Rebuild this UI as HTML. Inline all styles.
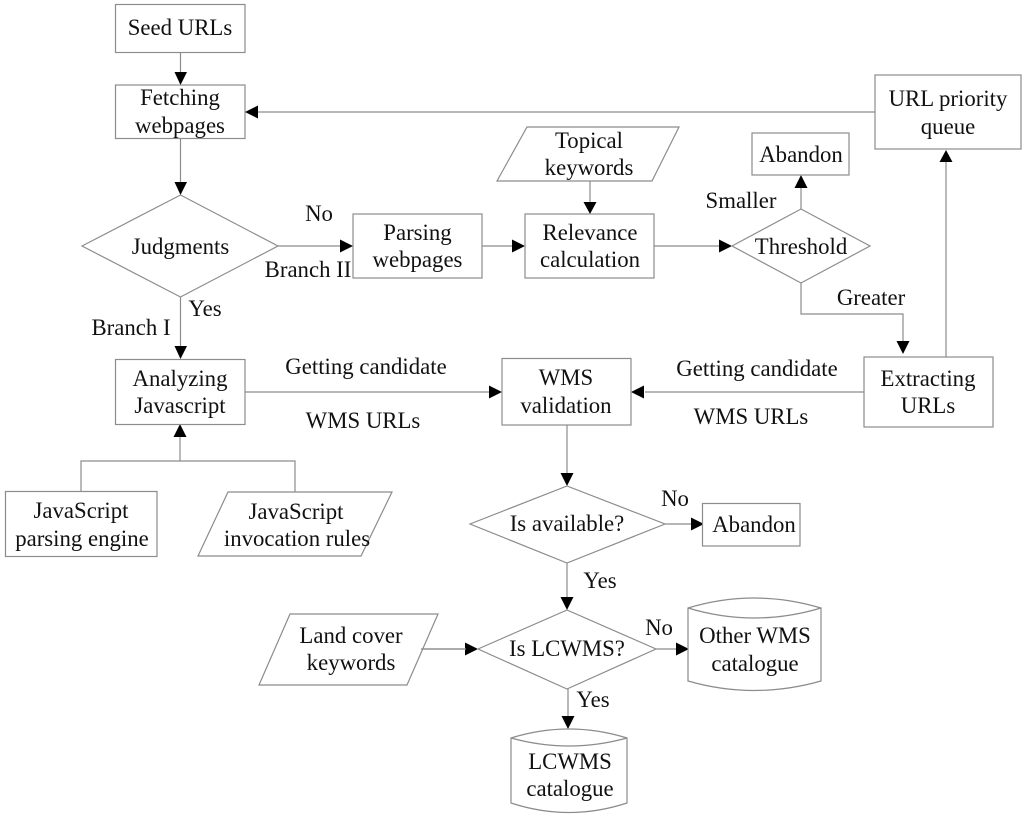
<!DOCTYPE html>
<html><head><meta charset="utf-8"><style>
html,body{margin:0;padding:0;background:#fff;width:1024px;height:820px;overflow:hidden}
svg{display:block;filter:blur(.35px)}
text{font-family:"Liberation Serif",serif;font-size:22.8px;fill:#111;text-anchor:middle}
.s{fill:#fff;stroke:#8c8c8c;stroke-width:1.2}
.l{fill:none;stroke:#8c8c8c;stroke-width:1.2}
.a{fill:#000;stroke:none}
</style></head><body>
<svg width="1024" height="820" viewBox="0 0 1024 820" xmlns="http://www.w3.org/2000/svg">
<rect width="1024" height="820" fill="#fff"/>
<path class="s" d="M421 649H466" style="fill:none"/>
<path class="l" d="M180.500 52V75M180.500 138V183M180.500 297V347M245 112H875M278 246H342M482 246H513M654 246H720M590 181V203M801 209V188M801 283V314H903V342M946 357V162M864 392H645M245 392H491M567 425V474M180 461V436M81 491V461H295V492M665 524H691M567 563V598M656 649H677M568 689V717"/>
<path class="a" d="M174.500 72H187L180.500 85ZM174.500 182H187L180.500 195ZM174.500 346H187L180.500 359ZM245 112L258 105.500V118.500ZM340 239.500L353 246L340 252.500ZM512 239.500L525 246L512 252.500ZM719 239.500L732 246L719 252.500ZM583.500 202H596.500L590 214ZM794.500 188L801 175L807.500 188ZM896.500 341H909.500L903 354ZM939.500 162L946 150L952.500 162ZM631 392L644 385.500V398.500ZM489 385.500L502 392L489 398.500ZM173.500 437L180 424L186.500 437ZM560.500 473H573.500L567 486ZM691 517.500L704 524L691 530.500ZM560.500 597H573.500L567 610ZM465 642.500L478 649L465 655.500ZM676 642.500L689 649L676 655.500ZM561.500 716H574.500L568 729Z"/>
<rect class="s" x="115.500" y="4.500" width="129.500" height="48"/>
<rect class="s" x="115.500" y="85" width="129.500" height="53.500"/>
<rect class="s" x="353" y="214" width="129" height="64"/>
<rect class="s" x="525" y="214" width="129" height="64"/>
<rect class="s" x="752" y="133" width="97" height="42"/>
<rect class="s" x="875" y="75" width="146" height="74"/>
<rect class="s" x="864" y="357" width="129" height="70"/>
<rect class="s" x="502" y="358.500" width="129" height="66.500"/>
<rect class="s" x="115.500" y="359.500" width="129.500" height="65"/>
<rect class="s" x="5.500" y="491.500" width="151.500" height="65"/>
<rect class="s" x="702.500" y="503.500" width="97.500" height="42.500"/>
<polygon class="s" points="82,246 180.500,195 278,246 180.500,297"/>
<polygon class="s" points="732,246 801,209 870,246 801,283"/>
<polygon class="s" points="470,524 567,486 665,524 567,563"/>
<polygon class="s" points="478,649 567,610 656,649 567,689"/>
<polygon class="s" points="497,181 527,127 679,127 652,181"/>
<polygon class="s" points="198,556 228,492 392,492 361,556"/>
<polygon class="s" points="259,685 290,614 438,614 407,685"/>
<path class="s" d="M421 649H466" style="fill:none"/>
<path class="s" d="M688 608Q754 588 821 608V681Q754 700 688 681Z"/>
<path class="l" d="M688 608Q754 628 821 608"/>
<path class="s" d="M511 738Q569 720 627 738V803Q569 822 511 803Z"/>
<path class="l" d="M511 738Q569 754 627 738"/>
<text x="180" y="35">Seed URLs</text>
<text x="180" y="105">Fetching</text><text x="180" y="133">webpages</text>
<text x="180.500" y="254">Judgments</text>
<text x="319" y="221">No</text>
<text x="308" y="277">Branch II</text>
<text x="205" y="316">Yes</text>
<text x="131" y="335">Branch I</text>
<text x="417.500" y="240">Parsing</text><text x="417.500" y="267">webpages</text>
<text x="590" y="240">Relevance</text><text x="590" y="267">calculation</text>
<text x="589" y="148">Topical</text><text x="589" y="175">keywords</text>
<text x="801" y="162">Abandon</text>
<text x="741" y="208">Smaller</text>
<text x="801" y="254">Threshold</text>
<text x="948" y="106">URL priority</text><text x="948" y="134">queue</text>
<text x="871" y="305">Greater</text>
<text x="928" y="386">Extracting</text><text x="928" y="413">URLs</text>
<text x="180" y="386">Analyzing</text><text x="180" y="413">Javascript</text>
<text x="366" y="374">Getting candidate</text>
<text x="363" y="428">WMS URLs</text>
<text x="566" y="385">WMS</text><text x="566" y="413">validation</text>
<text x="757" y="376">Getting candidate</text>
<text x="751" y="424">WMS URLs</text>
<text x="81" y="518">JavaScript</text><text x="82" y="546">parsing engine</text>
<text x="296" y="519">JavaScript</text><text x="297" y="546">invocation rules</text>
<text x="567" y="531">Is available?</text>
<text x="675" y="506">No</text>
<text x="754" y="532">Abandon</text>
<text x="600" y="588">Yes</text>
<text x="351" y="643">Land cover</text><text x="351" y="670">keywords</text>
<text x="567" y="656">Is LCWMS?</text>
<text x="659" y="635">No</text>
<text x="755" y="643">Other WMS</text><text x="755" y="671">catalogue</text>
<text x="593" y="707">Yes</text>
<text x="570" y="769">LCWMS</text><text x="570" y="796">catalogue</text>
</svg>
</body></html>
